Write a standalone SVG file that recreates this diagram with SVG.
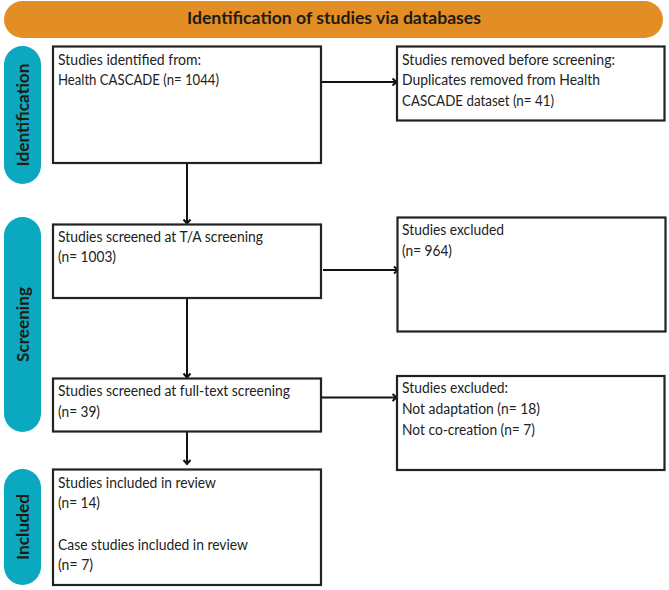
<svg xmlns="http://www.w3.org/2000/svg" width="669" height="590" viewBox="0 0 669 590">
<defs>
<marker id="arr" markerUnits="userSpaceOnUse" markerWidth="10" markerHeight="10" refX="7" refY="5" orient="auto"><path d="M3 1.5 L7 5 L3 8.5" fill="none" stroke="#111" stroke-width="2"/></marker>
</defs>
<style>
.box{fill:#fff;stroke:#222;stroke-width:2.2}
.pill{fill:#0AA9BF}
.t{font-family:"Lato","Open Sans",sans-serif;font-size:14.5px;fill:#222}
.h{font-family:"Lato","Open Sans",sans-serif;font-size:17px;font-weight:700;fill:#1f1a12}
.c{fill:none;stroke:#111;stroke-width:2;marker-end:url(#arr)}
</style>
<rect width="669" height="590" fill="#fff"/>
<g id="header"><rect x="4" y="1" width="659" height="37" rx="18.5" fill="#E38E25"/><text class="h" x="334" y="24" text-anchor="middle" textLength="294" lengthAdjust="spacingAndGlyphs">Identification of studies via databases</text></g>
<g id="phase-identification"><rect class="pill" x="4" y="46" width="37" height="138" rx="18.5"/><text class="h" transform="translate(28.5 115) rotate(-90)" text-anchor="middle" textLength="103" lengthAdjust="spacingAndGlyphs">Identification</text></g>
<g id="phase-screening"><rect class="pill" x="4" y="217" width="37" height="215" rx="18.5"/><text class="h" transform="translate(28.5 324.5) rotate(-90)" text-anchor="middle" textLength="75" lengthAdjust="spacingAndGlyphs">Screening</text></g>
<g id="phase-included"><rect class="pill" x="4" y="469" width="37" height="116" rx="18.5"/><text class="h" transform="translate(28.5 527) rotate(-90)" text-anchor="middle" textLength="66" lengthAdjust="spacingAndGlyphs">Included</text></g>
<g id="connectors">
<path class="c" d="M187 163V223.5"/>
<path class="c" d="M321 82H396.5"/>
<path class="c" d="M187 298V377.5"/>
<path class="c" d="M323 270H398"/>
<path class="c" d="M187 431V464"/>
<path class="c" d="M321 397.5H396.5"/>
</g>
<g id="n-identified"><rect class="box" x="53" y="46.5" width="268" height="116.5"/><text class="t" x="58" y="65" textLength="143" lengthAdjust="spacingAndGlyphs">Studies identified from:</text><text class="t" x="58" y="85" textLength="161" lengthAdjust="spacingAndGlyphs">Health CASCADE (n= 1044)</text></g>
<g id="n-removed"><rect class="box" x="397" y="46.5" width="267.5" height="74"/><text class="t" x="402" y="65" textLength="213" lengthAdjust="spacingAndGlyphs">Studies removed before screening:</text><text class="t" x="402" y="85" textLength="198" lengthAdjust="spacingAndGlyphs">Duplicates removed from Health</text><text class="t" x="402" y="106" textLength="152" lengthAdjust="spacingAndGlyphs">CASCADE dataset (n= 41)</text></g>
<g id="n-ta"><rect class="box" x="53" y="224.5" width="268" height="73.5"/><text class="t" x="58" y="242" textLength="205" lengthAdjust="spacingAndGlyphs">Studies screened at T/A screening</text><text class="t" x="58" y="262" textLength="58" lengthAdjust="spacingAndGlyphs">(n= 1003)</text></g>
<g id="n-excluded-ta"><rect class="box" x="397.5" y="217.5" width="268" height="114"/><text class="t" x="402" y="235" textLength="102" lengthAdjust="spacingAndGlyphs">Studies excluded</text><text class="t" x="402" y="256" textLength="50" lengthAdjust="spacingAndGlyphs">(n= 964)</text></g>
<g id="n-fulltext"><rect class="box" x="53" y="378.5" width="268" height="53"/><text class="t" x="58" y="396" textLength="232" lengthAdjust="spacingAndGlyphs">Studies screened at full-text screening</text><text class="t" x="58" y="417" textLength="42" lengthAdjust="spacingAndGlyphs">(n= 39)</text></g>
<g id="n-excluded-ft"><rect class="box" x="397" y="376" width="267.5" height="94"/><text class="t" x="402" y="393" textLength="106" lengthAdjust="spacingAndGlyphs">Studies excluded:</text><text class="t" x="402" y="414" textLength="138" lengthAdjust="spacingAndGlyphs">Not adaptation (n= 18)</text><text class="t" x="402" y="435" textLength="133" lengthAdjust="spacingAndGlyphs">Not co-creation (n= 7)</text></g>
<g id="n-included"><rect class="box" x="53" y="469.5" width="268" height="115.5"/><text class="t" x="58" y="488" textLength="158" lengthAdjust="spacingAndGlyphs">Studies included in review</text><text class="t" x="58" y="508" textLength="42" lengthAdjust="spacingAndGlyphs">(n= 14)</text><text class="t" x="58" y="550" textLength="190" lengthAdjust="spacingAndGlyphs">Case studies included in review</text><text class="t" x="58" y="570" textLength="35" lengthAdjust="spacingAndGlyphs">(n= 7)</text></g>
</svg>
